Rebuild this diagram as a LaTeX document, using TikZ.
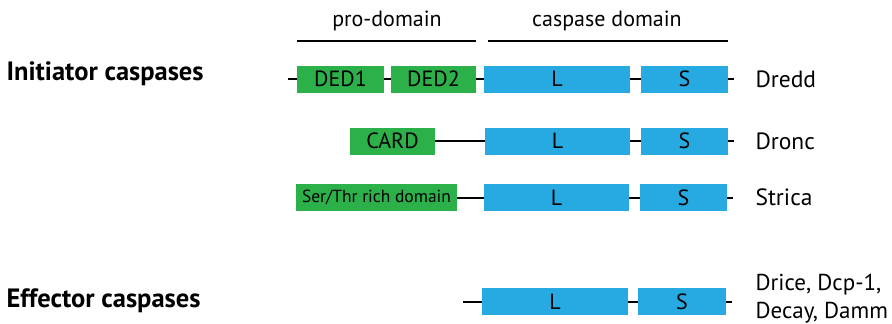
\documentclass[tikz,border=0pt]{standalone}
\usepackage{fontspec}
\setmainfont{PT Sans}
\usepackage{tikz}
\definecolor{progreen}{RGB}{43,176,74}
\definecolor{casblue}{RGB}{39,170,225}
\tikzstyle{pro} = [rectangle, fill=progreen, minimum height=27pt, inner sep=0pt, text centered, font=\fontsize{22}{24}\selectfont]
\tikzstyle{cas} = [rectangle, fill=casblue, minimum height=27pt, inner sep=0pt, text centered, font=\fontsize{22}{24}\selectfont]
\tikzstyle{protname} = [anchor=west, font=\fontsize{23.5}{26}\selectfont]
\tikzstyle{grouplabel} = [anchor=west, font=\fontsize{26.5}{28}\selectfont\bfseries]
\tikzstyle{link} = [line width=2pt]

\begin{document}
\begin{tikzpicture}[x=1pt, y=-1pt]
  \useasboundingbox (0,0) rectangle (892,324);

  % domain headings
  \node (prohead) [anchor=base, font=\fontsize{22}{24}\selectfont] at (387,26) {pro-domain};
  \node (cashead) [anchor=base, font=\fontsize{22}{24}\selectfont] at (607,26) {caspase domain};
  \coordinate (proa) at (297,41);
  \coordinate (prob) at (476,41);
  \coordinate (casa) at (488,41);
  \coordinate (casb) at (728,41);
  \draw [link] (proa) -- (prob);
  \draw [link] (casa) -- (casb);

  \node (initiator) [grouplabel] at (3,74) {Initiator caspases};
  \node (effector) [grouplabel] at (3,301) {Effector caspases};

  % Dredd
  \coordinate (dreddin) at (288,79);
  \node (ded1) [pro, minimum width=87pt] at (340.5,79) {DED1};
  \node (ded2) [pro, minimum width=85pt] at (433.5,79) {DED2};
  \node (dreddL) [cas, minimum width=146pt] at (557,79) {L};
  \node (dreddS) [cas, minimum width=87pt] at (684.5,79) {S};
  \coordinate (dreddout) at (734,79);
  \node (dredd) [protname] at (752,79) {Dredd};
  \draw [link] (dreddin) -- (ded1.west);
  \draw [link] (ded1) -- (ded2);
  \draw [link] (ded2) -- (dreddL);
  \draw [link] (dreddL) -- (dreddS);
  \draw [link] (dreddS.east) -- (dreddout);

  % Dronc
  \node (card) [pro, minimum width=85pt] at (392.5,141) {CARD};
  \node (droncL) [cas, minimum width=145pt] at (557.5,141) {L};
  \node (droncS) [cas, minimum width=87pt] at (684.5,141) {S};
  \coordinate (droncout) at (734,141);
  \node (dronc) [protname] at (752,141) {Dronc};
  \draw [link] (card) -- (droncL);
  \draw [link] (droncL) -- (droncS);
  \draw [link] (droncS.east) -- (droncout);

  % Strica
  \node (serthr) [pro, minimum width=161pt, font=\fontsize{17.5}{19}\selectfont] at (376.5,197.5) {Ser/Thr rich domain};
  \node (stricaL) [cas, minimum width=145pt] at (556.5,197.5) {L};
  \node (stricaS) [cas, minimum width=87pt] at (683.5,197.5) {S};
  \coordinate (stricaout) at (733,197.5);
  \node (strica) [protname] at (752,197.5) {Strica};
  \draw [link] (serthr) -- (stricaL);
  \draw [link] (stricaL) -- (stricaS);
  \draw [link] (stricaS.east) -- (stricaout);

  % effectors
  \coordinate (effin) at (463,301.5);
  \node (effL) [cas, minimum width=146pt] at (555,301.5) {L};
  \node (effS) [cas, minimum width=88pt] at (682,301.5) {S};
  \coordinate (effout) at (732,301.5);
  \node (drice) [protname, align=left, font=\fontsize{23}{28}\selectfont] at (752,299) {Drice, Dcp-1,\\Decay, Damm};
  \draw [link] (effin) -- (effL.west);
  \draw [link] (effL) -- (effS);
  \draw [link] (effS.east) -- (effout);
\end{tikzpicture}
\end{document}
